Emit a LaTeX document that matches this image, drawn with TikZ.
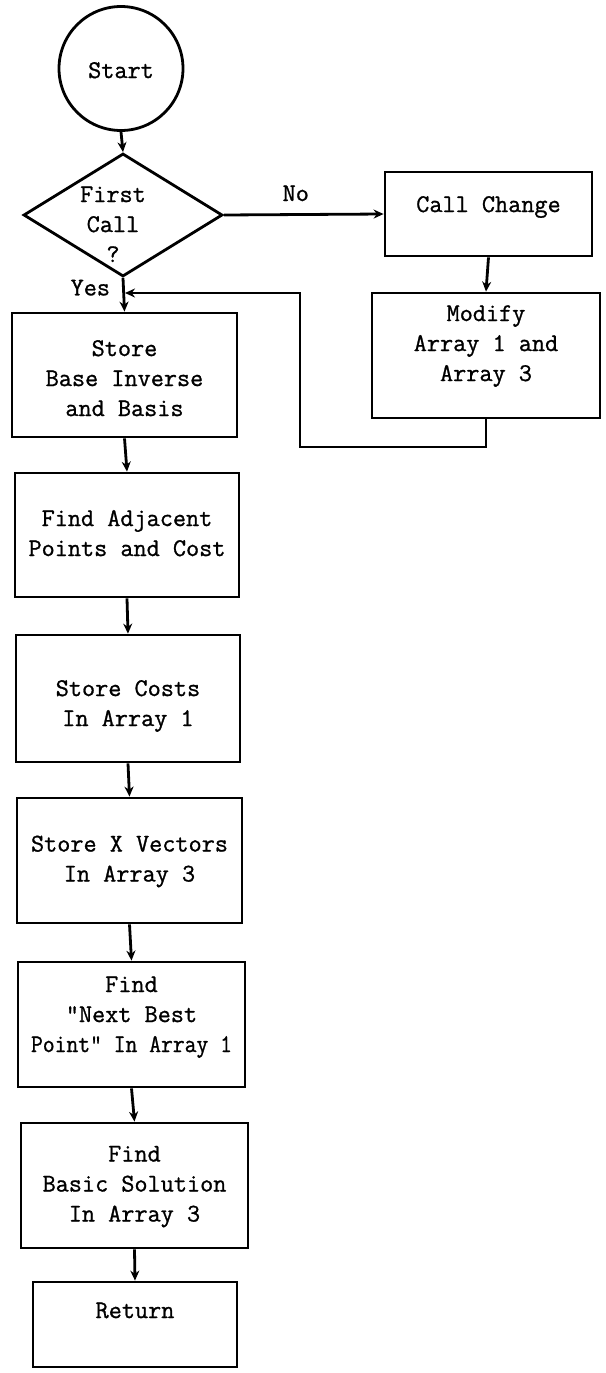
\documentclass[tikz,border=0pt]{standalone}
\usepackage{fontspec}
\usepackage{graphicx}
\usepackage{tikz}
\usetikzlibrary{shapes.geometric, arrows.meta}
\newfontfamily\typed[FakeBold=1]{Latin Modern Mono}
% text of a box: x shift, lift, lines
\newcommand{\boxtext}[3][0pt]{\makebox[0pt]{\kern#1\kern#1\raisebox{\dimexpr#2-6.25pt\relax}[0pt][0pt]{\begin{tabular}{@{}c@{}}#3\end{tabular}}}}
\tikzset{
  stepbox/.style={draw, rectangle, line width=2.8pt, inner sep=0pt},
  terminal/.style={draw, circle, line width=2.8pt, inner sep=0pt, minimum size=124pt},
  decision/.style={draw, diamond, line width=2.8pt, inner sep=0pt},
  answer/.style={inner sep=0pt},
  flow/.style={line width=2.8pt, -{Stealth[length=10pt,width=9pt]}}
}

\begin{document}
\begin{tikzpicture}[x=1pt, y=-1pt,
		font=\fontsize{25.5}{30}\selectfont\typed]
		\useasboundingbox (0,0) rectangle (605,1373);
		
		% start and test
		\node[terminal] (start) at (121,68.5) {\boxtext{-3.5pt}{Start}};
		\node[decision, minimum width=199pt, minimum height=123pt] (ask) at (123,215) {\boxtext[-10pt]{-11pt}{First\\Call\\?}};
		
		% right branch
		\node[stepbox, minimum width=207pt, minimum height=84pt] (change) at (488.5,214) {\boxtext{8pt}{Call Change}};
		\node[stepbox, minimum width=228pt, minimum height=125pt] (modify) at (486,355.5) {\boxtext{10.5pt}{Modify\\Array 1 and\\Array 3}};
		
		% main column
		\node[stepbox, minimum width=225pt, minimum height=124pt] (store) at (124.5,375) {\boxtext{-5pt}{Store\\Base Inverse\\and Basis}};
		\node[stepbox, minimum width=224pt, minimum height=124pt] (adjacent) at (127,535) {\boxtext{0pt}{Find Adjacent\\Points and Cost}};
		\node[stepbox, minimum width=224pt, minimum height=127pt] (costs) at (128,698.5) {\boxtext{-6.5pt}{Store Costs\\In Array 1}};
		\node[stepbox, minimum width=225pt, minimum height=125pt] (vectors) at (129.5,860.5) {\boxtext{0pt}{Store X Vectors\\In Array 3}};
		\node[stepbox, minimum width=227pt, minimum height=125pt] (nextbest) at (131.5,1024.5) {\boxtext{8.5pt}{Find\\"Next Best\\\scalebox{0.9}[1]{Point" In Array 1}}};
		\node[stepbox, minimum width=227pt, minimum height=125pt] (basic) at (134.5,1185.5) {\boxtext{0pt}{Find\\Basic Solution\\In Array 3}};
		\node[stepbox, minimum width=204pt, minimum height=85pt] (return) at (135,1324.5) {\boxtext{12.5pt}{Return}};
		
		% connectors
		\draw[flow] (start.south) -- (ask.north);
		\draw[flow] (ask.east) -- node[answer, pos=0.45, above=12pt] {No} (change.west);
		\draw[flow] (change.south) -- (modify.north);
		\draw[flow] (ask.south) -- node[answer, pos=0.29, left=12pt] {Yes} (store.north);
		\foreach \a/\b in {store/adjacent, adjacent/costs, costs/vectors, vectors/nextbest, nextbest/basic, basic/return}
			\draw[flow] (\a.south) -- (\b.north);
		
		% back to the main column
		\coordinate (turn) at (300,447);
		\coordinate (join) at (125,293);
		\draw[flow] (modify.south) |- (turn) |- (join);
	\end{tikzpicture}
\end{document}
